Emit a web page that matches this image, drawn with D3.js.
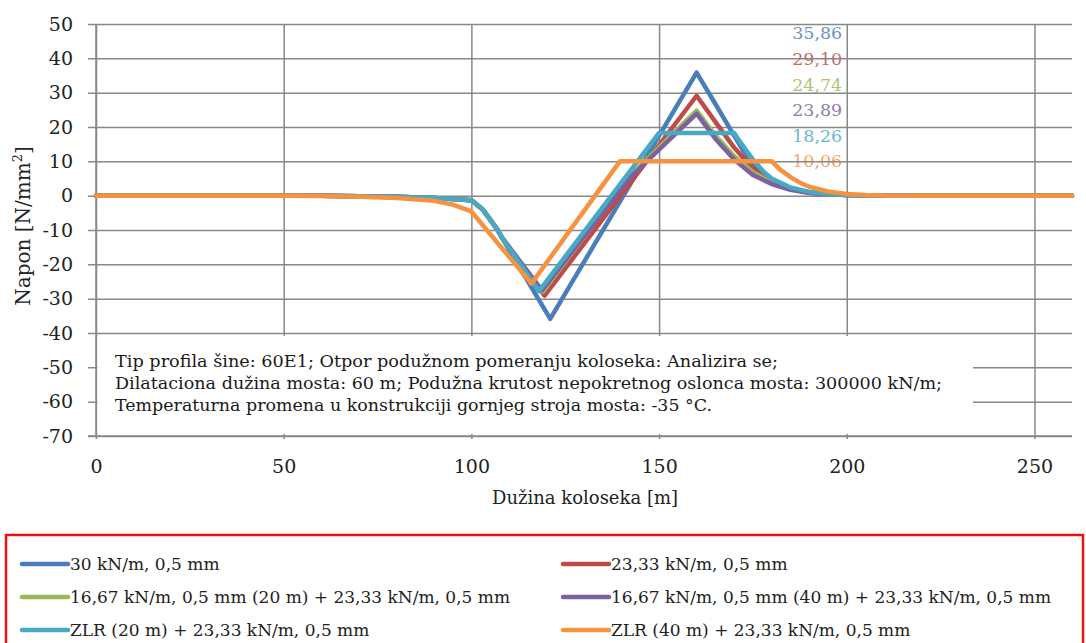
<!DOCTYPE html>
<html>
<head>
<meta charset="utf-8">
<script src="https://cdn.jsdelivr.net/npm/d3@7"></script>
<style>
  html, body { margin: 0; padding: 0; background: #fff; }
  svg { display: block; }
  text { font-family: "DejaVu Serif", "Liberation Serif", serif; }
</style>
</head>
<body>
<svg id="chart" width="1086" height="643"></svg>
<script>
// ---------- DATA ----------
const seriesNames = [
  "30 kN/m, 0,5 mm",
  "23,33 kN/m, 0,5 mm",
  "16,67 kN/m, 0,5 mm (20 m) + 23,33 kN/m, 0,5 mm",
  "16,67 kN/m, 0,5 mm (40 m) + 23,33 kN/m, 0,5 mm",
  "ZLR (20 m) + 23,33 kN/m, 0,5 mm",
  "ZLR (40 m) + 23,33 kN/m, 0,5 mm"
];
const seriesColors = ["#4A7EBB", "#BE4B48", "#98B954", "#7D60A0", "#46AAC5", "#F69240"];
const peakLabels = ["35,86", "29,10", "24,74", "23,89", "18,26", "10,06"];

// x positions [m] and stresses [N/mm2] per series
const xBlue   = [0, 50, 60, 70, 80, 90, 95, 100, 103, 105, 107, 108, 121, 160, 165, 170, 173, 175, 178, 180, 185, 190, 195, 200, 210, 220, 260];
const vBlue   = [0, 0, -0.05, -0.15, -0.35, -0.7, -0.95, -1.3, -4, -7, -10, -12, -35.86, 35.86, 26.7, 17.5, 12, 9.0, 5.8, 4.4, 2.1, 1.0, 0.5, 0.2, 0.05, 0, 0];
const xRed    = [0, 50, 60, 70, 80, 90, 95, 100, 103, 105, 107, 108, 119.5, 160, 165, 170, 173, 175, 178, 180, 185, 190, 195, 200, 210, 220, 260];
const vRed    = [0, 0, -0.05, -0.15, -0.35, -0.7, -0.95, -1.3, -4, -7, -10, -12, -29.1, 29.1, 21.5, 14.0, 10.3, 8.0, 5.4, 4.1, 2.0, 0.9, 0.4, 0.2, 0.05, 0, 0];
const xGreen  = [0, 50, 60, 70, 80, 90, 95, 100, 103, 105, 107, 108, 119, 142, 160, 165, 170, 175, 180, 185, 190, 195, 200, 210, 220, 260];
const vGreen  = [0, 0, -0.05, -0.15, -0.35, -0.7, -0.95, -1.3, -4, -7, -10, -12, -28.0, 5.5, 24.74, 17.5, 11.5, 6.8, 3.8, 1.9, 0.9, 0.4, 0.2, 0.05, 0, 0];
const xPurple = [0, 50, 60, 70, 80, 90, 95, 100, 103, 105, 107, 108, 118.8, 142, 160, 165, 170, 175, 180, 185, 190, 195, 200, 210, 220, 260];
const vPurple = [0, 0, -0.05, -0.15, -0.35, -0.7, -0.95, -1.3, -4, -7, -10, -12, -27.6, 5.0, 23.89, 16.6, 10.5, 6.0, 3.4, 1.7, 0.8, 0.4, 0.2, 0.05, 0, 0];
const xTeal   = [0, 50, 60, 70, 80, 90, 95, 100, 103, 105, 107, 108, 118, 150, 170, 172, 175, 178, 180, 185, 190, 195, 200, 210, 220, 260];
const vTeal   = [0, 0, -0.05, -0.15, -0.35, -0.7, -0.95, -1.3, -4, -7, -10, -12, -27.8, 18.26, 18.26, 15.0, 10.5, 6.8, 5.0, 2.4, 1.1, 0.5, 0.2, 0.05, 0, 0];
const xOrange = [0, 50, 60, 70, 80, 90, 95, 100, 116, 139.6, 180, 182, 185, 188, 190, 195, 200, 205, 210, 220, 260];
const vOrange = [0, 0, -0.1, -0.3, -0.7, -1.5, -2.6, -4.6, -25.6, 10.06, 10.06, 7.8, 5.4, 3.5, 2.6, 1.2, 0.5, 0.2, 0.05, 0, 0];

const xSets = [xBlue, xRed, xGreen, xPurple, xTeal, xOrange];
const vSets = [vBlue, vRed, vGreen, vPurple, vTeal, vOrange];

const xTicks = [0, 50, 100, 150, 200, 250];
const yTicks = [50, 40, 30, 20, 10, 0, -10, -20, -30, -40, -50, -60, -70];
const xTitle = "Dužina koloseka [m]";
const notes = [
  "Tip profila šine: 60E1; Otpor podužnom pomeranju koloseka: Analizira se;",
  "Dilataciona dužina mosta: 60 m; Podužna krutost nepokretnog oslonca mosta: 300000 kN/m;",
  "Temperaturna promena u konstrukciji gornjeg stroja mosta: -35 °C."
];

// ---------- DRAW ----------
const svg = d3.select("#chart");
const x = d3.scaleLinear().domain([0, 260]).range([96, 1072]);
const y = d3.scaleLinear().domain([-70, 50]).range([436, 24]);
const gridColor = "#888888";
const fmt = d => String(d);

// peak labels (drawn under grid, as in the original)
const labelG = svg.append("g");
peakLabels.forEach((t, i) => {
  labelG.append("text")
    .attr("x", x(198.8))
    .attr("y", y(47.3 - i * 7.45))
    .attr("dy", "0.35em")
    .attr("text-anchor", "end")
    .attr("font-size", 17.5)
    .attr("fill", seriesColors[i])
    .attr("fill-opacity", 0.85)
    .text(t);
});

// horizontal grid + y axis ticks
const yAxis = d3.axisLeft(y).tickValues(yTicks).tickSize(-(1072 - 88)).tickSizeOuter(0).tickFormat(fmt);
const gy = svg.append("g").attr("transform", "translate(88,0)").call(yAxis);
gy.select(".domain").remove();
gy.selectAll(".tick line").attr("stroke", gridColor).attr("stroke-width", 1.5);
gy.selectAll(".tick text").attr("font-size", 19).attr("fill", "#222").attr("x", 73 - 88);

// vertical grid
const xAxisGrid = d3.axisBottom(x).tickValues(xTicks).tickSize(-(436 - 24)).tickFormat("");
const gx = svg.append("g").attr("transform", "translate(0,436)").call(xAxisGrid);
gx.select(".domain").remove();
gx.selectAll(".tick line").attr("stroke", gridColor).attr("stroke-width", 1.5);

// x-axis labels
const xAxis = d3.axisBottom(x).tickValues(xTicks).tickSize(3).tickPadding(21).tickFormat(fmt);
const gxl = svg.append("g").attr("transform", "translate(0,436)").call(xAxis);
gxl.select(".domain").remove();
gxl.selectAll(".tick line").attr("stroke", gridColor).attr("stroke-width", 1.5);
gxl.selectAll(".tick text").attr("font-size", 19).attr("fill", "#222");

// white notes box covering lower grid
svg.append("rect").attr("x", 97.5).attr("y", 336).attr("width", 973 - 97.5).attr("height", 434 - 336).attr("fill", "#fff");

// left axis line
svg.append("line").attr("x1", 96).attr("x2", 96).attr("y1", 24).attr("y2", 436)
  .attr("stroke", gridColor).attr("stroke-width", 1.5);
// bottom axis line
svg.append("line").attr("x1", 88).attr("x2", 1072).attr("y1", 436).attr("y2", 436)
  .attr("stroke", gridColor).attr("stroke-width", 1.5);

// notes
const noteLen = [663, 827, 597];
notes.forEach((t, i) => {
  svg.append("text").attr("x", 115).attr("y", 367 + i * 22)
    .attr("font-size", 16.5).attr("fill", "#1a1a1a")
    .attr("textLength", noteLen[i]).attr("lengthAdjust", "spacingAndGlyphs")
    .text(t);
});

// series
const line = d3.line().x(d => x(d[0])).y(d => y(d[1]));
xSets.forEach((xs, i) => {
  const pts = xs.map((xv, j) => [xv, vSets[i][j]]);
  svg.append("path").datum(pts)
    .attr("d", line)
    .attr("fill", "none")
    .attr("stroke", seriesColors[i])
    .attr("stroke-width", 4.5)
    .attr("stroke-linejoin", "round")
    .attr("stroke-linecap", "round");
});

// axis titles
svg.append("text").attr("x", 585).attr("y", 504).attr("text-anchor", "middle")
  .attr("font-size", 18).attr("fill", "#222").text(xTitle);
const yt = svg.append("text").attr("transform", "translate(30,226) rotate(-90)")
  .attr("text-anchor", "middle").attr("font-size", 20).attr("fill", "#222");
yt.append("tspan").text("Napon [N/mm");
yt.append("tspan").attr("font-size", 13).attr("dy", -8).text("2");
yt.append("tspan").attr("dy", 8).text("]");

// legend
svg.append("rect").attr("x", 6).attr("y", 535).attr("width", 1077).attr("height", 120)
  .attr("fill", "none").attr("stroke", "#ee1111").attr("stroke-width", 2.5);
const legX = [22, 563];
const legY = [564, 597, 630];
seriesNames.forEach((n, i) => {
  const cx = legX[i % 2], cy = legY[Math.floor(i / 2)];
  svg.append("line").attr("x1", cx).attr("x2", cx + 46).attr("y1", cy).attr("y2", cy)
    .attr("stroke", seriesColors[i]).attr("stroke-width", 4.5).attr("stroke-linecap", "round");
  svg.append("text").attr("x", cx + 48).attr("y", cy).attr("dy", "0.35em")
    .attr("font-size", 17).attr("fill", "#222").text(n);
});
</script>
</body>
</html>
